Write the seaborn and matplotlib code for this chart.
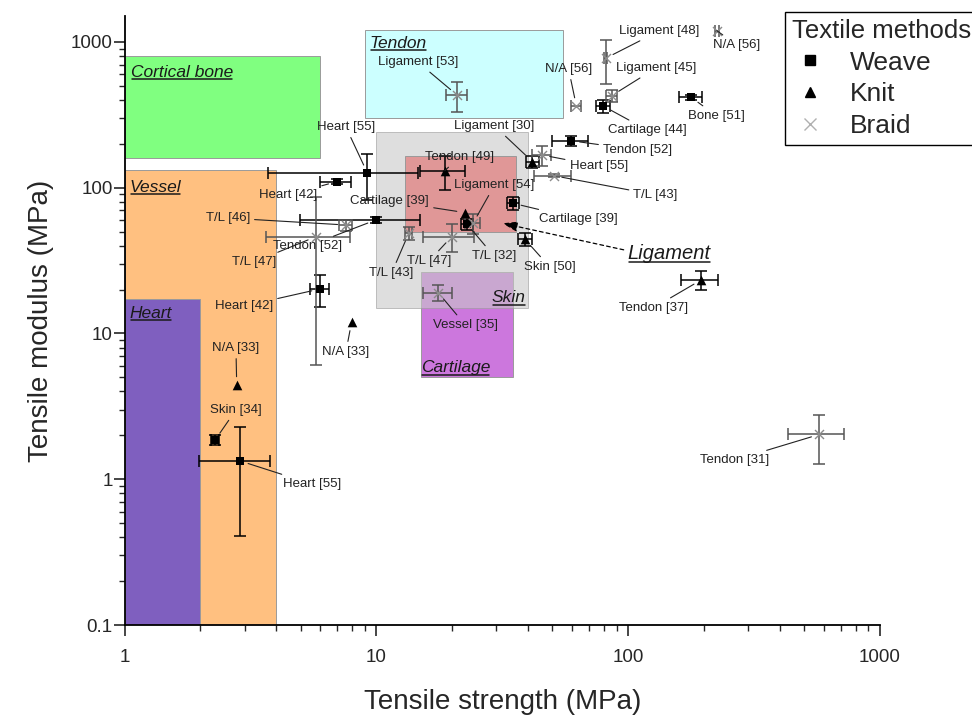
import matplotlib
matplotlib.use("Agg")
import matplotlib.pyplot as plt
import matplotlib.patches as mpatches
from matplotlib.lines import Line2D
import numpy as np
import pandas as pd
import seaborn as sns

# ---- scaffold data ----
method = (["Weave"] * 11) + (["Knit"] * 7) + (["Braid"] * 14)
label = [
    # weave
    "Heart [55]", "Heart [42]", "Tendon [52]", "Heart [42]", "T/L [32]",
    "Cartilage [39]", "Cartilage [44]", "Bone [51]", "Tendon [52]",
    "Skin [34]", "Heart [55]",
    # knit
    "Tendon [49]", "Cartilage [39]", "Ligament [30]", "Skin [50]",
    "Tendon [37]", "N/A [33]", "N/A [33]",
    # braid
    "Ligament [53]", "Ligament [48]", "N/A [56]", "N/A [56]", "Ligament [45]",
    "Heart [55]", "T/L [43]", "T/L [46]", "T/L [47]", "T/L [43]", "T/L [47]",
    "Ligament [54]", "Vessel [35]", "Tendon [31]",
]
strength = [9.2, 6.95, 9.93, 5.97, 22.9, 34.9, 79.5, 178, 59.5, 2.29, 2.88,
            18.7, 22.5, 41.7, 38.9, 195, 7.97, 2.79,
            20.9, 81.4, 62.3, 225, 86, 45.3, 50.6, 7.57, 5.75, 13.45, 19.9,
            24.2, 17.6, 575]
strength_err = [5.5, 0.95, 4.95, 0.5, 1.2, 2.0, 5.0, 19, 9.8, 0.08, 0.9,
                3.75, 0, 2.5, 2.5, 32.5, 0, 0,
                2.05, 1.0, 2.8, 4.5, 4.5, 3.9, 8.5, 0.45, 2.1, 0.4, 4.6,
                1.7, 2.3, 143]
modulus = [127, 110, 60, 20.2, 56.4, 78.2, 364, 417, 210, 1.86, 1.335,
           131, 67.5, 151, 44.3, 23.3, 11.9, 4.43,
           433, 773, 364, 1196, 428, 168, 121, 55.5, 46.1, 48.7, 46.1,
           57, 19.1, 2.03]
modulus_err = [44, 4, 3, 5, 5, 8, 38, 15, 17, 0.15, 0.93,
               34, 0, 15, 4.5, 3.5, 0, 0,
               100, 260, 0, 0, 40, 26, 3, 5, 40, 5, 10,
               9, 2.3, 0.75]

# label positions (layout only)
label_x = [7.57, 4.46, 5.35, 2.98, 29.3, 63.6, 119, 224.6, 109, 2.77, 5.55,
           21.4, 11.3, 29.5, 48.8, 126, 7.57, 2.77,
           14.6, 133, 58, 270, 129, 76.4, 128.6, 2.57, 3.26, 11.5, 16.2,
           29.5, 22.6, 264.7]
label_y = [261, 89, 39.8, 15.4, 34, 61, 249, 311, 181.5, 2.99, 0.928,
           162.5, 81.1, 265, 28.6, 15, 7.46, 7.95,
           729, 1190, 653, 953, 663, 141, 89.2, 62, 30.9, 26, 31.4,
           104.4, 11.4, 1.355]

# ---- native tissue ranges ----
tissue = ["Cortical bone", "Tendon", "Vessel", "Heart", "Skin", "Cartilage", "Ligament"]
tissue_strength = [(1, 6), (9, 55), (1, 4), (1, 2), (10, 40), (15, 35), (13, 36)]
tissue_modulus = [(160, 800), (300, 1200), (0.05, 132), (0.05, 17.2),
                  (15, 240), (5.05, 26.4), (50, 165)]
tissue_color = ["#80FF80", "#CCFFFF", "#FFC080", "#7F5FBF", "#C8C8C8", "#CC77DD", "#E09797"]
tissue_alpha = [1, 1, 1, 1, 0.6, 1, 1]
tissue_order = [0, 1, 2, 3, 5, 4, 6]

df = pd.DataFrame({"method": method, "label": label,
                   "strength": strength, "strength_err": strength_err,
                   "modulus": modulus, "modulus_err": modulus_err})

sns.set_style("ticks")
plt.rcParams["font.family"] = ["Liberation Sans", "DejaVu Sans"]

fig = plt.figure(figsize=(9.72, 7.18), dpi=100)
ax = fig.add_axes([0.1281, 0.1295, 0.7772, 0.8478])
ax.set_xscale("log")
ax.set_yscale("log")
ax.set_xlim(1, 1000)
ax.set_ylim(0.1, 1500)

# tissue boxes
for i in tissue_order:
    x0, x1 = tissue_strength[i]
    y0, y1 = tissue_modulus[i]
    ax.add_patch(mpatches.Rectangle((x0, y0), x1 - x0, y1 - y0,
                                    facecolor=tissue_color[i], alpha=tissue_alpha[i],
                                    edgecolor="#9a9a9a", lw=0.7, zorder=1))

# error bars
ecol = {"Weave": "black", "Knit": "black", "Braid": "#555555"}
for _, r in df.iterrows():
    xe = r.strength_err if r.strength_err > 0 else None
    ye = r.modulus_err if r.modulus_err > 0 else None
    if xe is None and ye is None:
        continue
    ax.errorbar(r.strength, r.modulus, xerr=xe, yerr=ye, fmt="none",
                ecolor=ecol[r.method], elinewidth=1.1, capsize=4.5,
                capthick=1.1, zorder=4)

# markers
styles = {"Weave": ("s", "black", 38), "Knit": ("^", "black", 48),
          "Braid": ("x", "#8c8c8c", 42)}
handles = []
for m in ["Weave", "Knit", "Braid"]:
    sub = df[df["method"] == m]
    mk, col, sz = styles[m]
    if mk == "x":
        sns.scatterplot(x=sub["strength"], y=sub["modulus"], marker=mk, color=col,
                        s=sz, linewidth=1.0, ax=ax, zorder=5, legend=False)
    else:
        sns.scatterplot(x=sub["strength"], y=sub["modulus"], marker=mk, color=col,
                        s=sz, linewidth=0, ax=ax, zorder=5, legend=False)
    handles.append(Line2D([], [], ls="none", marker=mk, color=("#b0b0b0" if mk == "x" else col),
                          markersize=7 if mk != "x" else 9, mew=1.0))

# point labels with leader lines
for i in range(len(label)):
    ax.annotate(label[i], xy=(strength[i], modulus[i]), xytext=(label_x[i], label_y[i]),
                ha="center", va="center", fontsize=9.5, color="#222222", zorder=6,
                arrowprops=dict(arrowstyle="-", color="#222222", lw=0.8,
                                shrinkA=1, shrinkB=6))

# tissue names
region_text = []
region_text.append(ax.text(1.06, 575, "Cortical bone", ha="left"))
region_text.append(ax.text(9.4, 910, "Tendon", ha="left"))
region_text.append(ax.text(1.05, 93.5, "Vessel", ha="left"))
region_text.append(ax.text(1.05, 12.8, "Heart", ha="left"))
region_text.append(ax.text(39.2, 16.4, "Skin", ha="right"))
region_text.append(ax.text(15.0, 5.44, "Cartilage", ha="left"))
for t in region_text:
    t.set_fontsize(12.5)
    t.set_fontstyle("italic")
    t.set_va("baseline")
    t.set_color("#1a1a1a")
    t.set_zorder(6)
lig = ax.text(99.5, 32.4, "Ligament", ha="left", va="baseline", fontsize=14.5,
              fontstyle="italic", color="#1a1a1a", zorder=6)
region_text.append(lig)
ax.annotate("", xy=(31.7, 57), xytext=(96, 37.5),
            arrowprops=dict(arrowstyle="-|>,head_length=0.9,head_width=0.3",
                            linestyle=(0, (3, 2.5)), color="black", lw=0.9,
                            shrinkA=0, shrinkB=0), zorder=6)

# axes styling
for s in ["top", "right"]:
    ax.spines[s].set_visible(False)
for s in ["left", "bottom"]:
    ax.spines[s].set_linewidth(1.3)
    ax.spines[s].set_color("black")
ax.set_xticks([1, 10, 100, 1000], labels=["1", "10", "100", "1000"])
ax.set_yticks([0.1, 1, 10, 100, 1000], labels=["0.1", "1", "10", "100", "1000"])
ax.tick_params(which="major", direction="out", length=8, width=1.2, labelsize=13.5)
ax.tick_params(axis="x", which="major", pad=9)
ax.tick_params(axis="y", which="major", pad=0.5)
ax.tick_params(which="minor", direction="out", length=4, width=1.0)
ax.set_xlabel("Tensile strength (MPa)", fontsize=20, labelpad=17)
ax.set_ylabel("Tensile modulus (MPa)", fontsize=20, labelpad=12)

leg = ax.legend(handles=handles, labels=["Weave", "Knit", "Braid"], title="Textile methods",
                loc="upper left", bbox_to_anchor=(785 / 972, 1 - 12 / 718),
                bbox_transform=fig.transFigure, fontsize=19, title_fontsize=18.5,
                frameon=True, fancybox=False, edgecolor="black", framealpha=1,
                labelspacing=0.3, handletextpad=0.8, borderpad=0.25,
                handlelength=1.4, borderaxespad=0, alignment="left")
leg.get_frame().set_linewidth(1.0)
leg.set_zorder(10)

# underline tissue names
fig.canvas.draw()
renderer = fig.canvas.get_renderer()
inv = fig.transFigure.inverted()
for t in region_text:
    bb = t.get_window_extent(renderer)
    _, yb = t.get_transform().transform(t.get_position())
    p0 = inv.transform((bb.x0 + 1, yb - 2.5))
    p1 = inv.transform((bb.x1 - 1, yb - 2.5))
    fig.add_artist(Line2D([p0[0], p1[0]], [p0[1], p1[1]], color="#1a1a1a", lw=1.1))

fig.savefig("out.png", dpi=100)
